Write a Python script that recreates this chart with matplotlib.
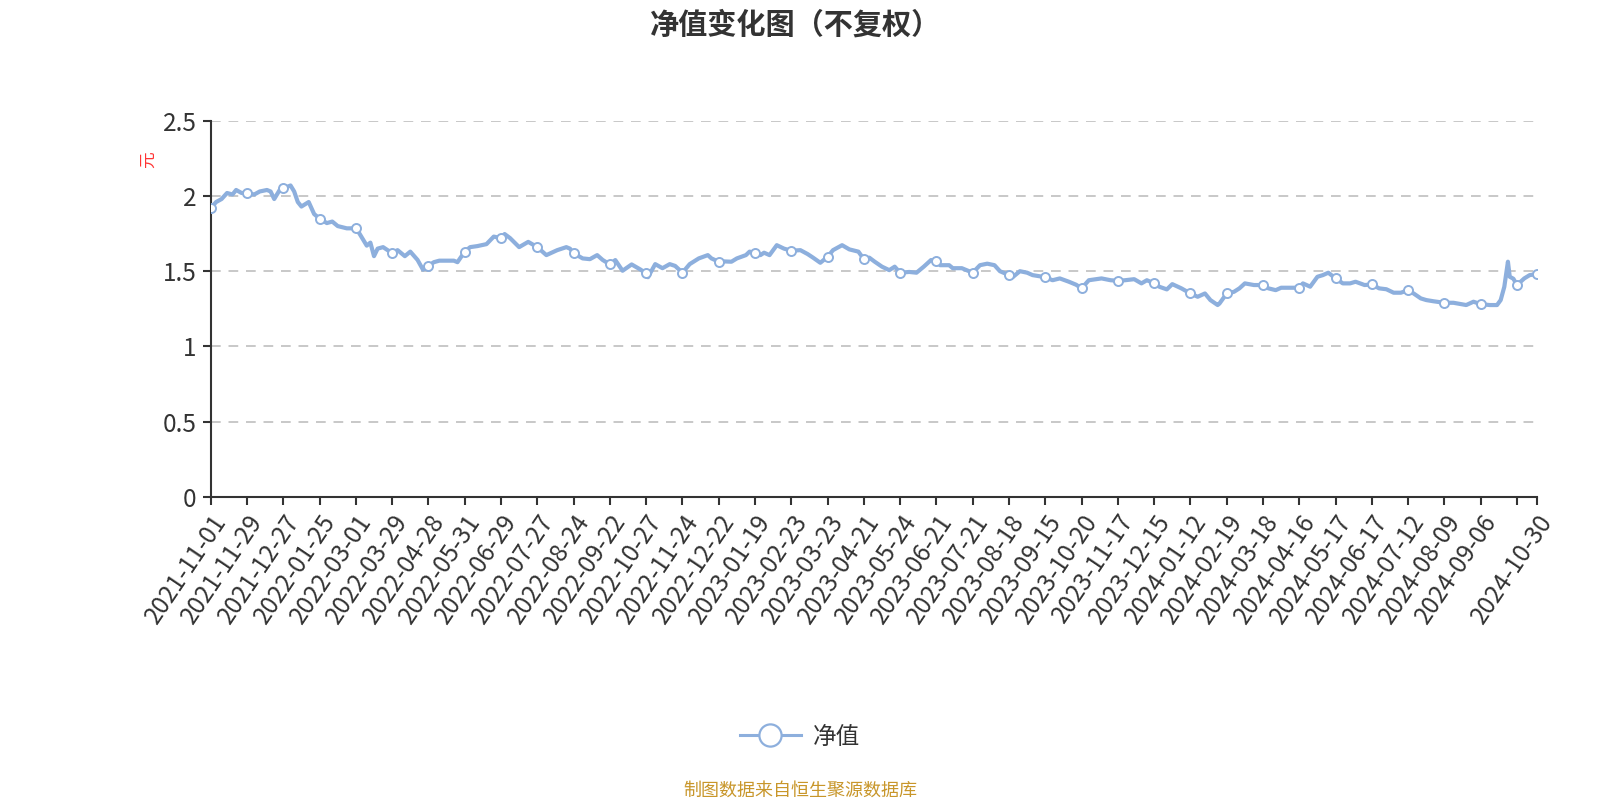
import matplotlib
matplotlib.use("Agg")
import matplotlib.pyplot as plt
from matplotlib.lines import Line2D

plt.rcParams['font.family'] = ['Noto Sans CJK SC', 'DejaVu Sans']

# trading-day positions and net values
day_idx = [0, 3, 6, 9, 12, 14, 17, 20, 24, 27, 31, 33, 35, 38, 40, 44, 46, 48, 50, 54, 57, 60,
           64, 67, 70, 75, 80, 82, 86, 88, 90, 92, 95, 100, 103, 107, 110, 114, 117, 120, 123,
           126, 134, 136, 140, 143, 147, 152, 156, 160, 162, 165, 170, 175, 180, 185, 191, 196,
           198, 200, 205, 209, 213, 216, 220, 223, 227, 232, 237, 240, 241, 245, 249, 253, 256,
           260, 264, 269, 274, 276, 280, 283, 287, 290, 295, 297, 300, 303, 305, 308, 312, 316,
           320, 325, 329, 332, 336, 340, 343, 348, 352, 357, 360, 363, 366, 370, 374, 377, 380,
           385, 389, 393, 397, 400, 402, 407, 409, 414, 420, 424, 428, 432, 435, 440, 442, 446,
           450, 453, 460, 464, 468, 473, 477, 480, 484, 491, 496, 500, 504, 509, 513, 516, 520,
           523, 527, 530, 535, 540, 544, 548, 551, 555, 556, 560, 564, 567, 570, 575, 580, 583,
           587, 590, 594, 600, 602, 606, 610, 613, 616, 620, 624, 628, 631, 636, 640, 644, 648,
           652, 656, 660, 663, 667, 670, 674, 680, 685, 692, 696, 700, 705, 709, 711, 713, 715,
           716, 718, 720, 724, 727, 731]
nav = [1.92, 1.96, 1.98, 2.02, 2.01, 2.04, 2.02, 2.02, 2.01, 2.03, 2.04, 2.03, 1.98, 2.04, 2.05,
       2.07, 2.03, 1.96, 1.93, 1.96, 1.88, 1.85, 1.82, 1.83, 1.80, 1.785, 1.785, 1.75, 1.67, 1.69,
       1.60, 1.65, 1.66, 1.62, 1.64, 1.60, 1.63, 1.575, 1.51, 1.535, 1.56, 1.57, 1.57, 1.56, 1.63,
       1.66, 1.667, 1.68, 1.73, 1.72, 1.747, 1.72, 1.66, 1.695, 1.66, 1.607, 1.64, 1.66, 1.65,
       1.62, 1.585, 1.58, 1.607, 1.575, 1.545, 1.574, 1.503, 1.545, 1.51, 1.485, 1.46, 1.547,
       1.52, 1.547, 1.535, 1.49, 1.547, 1.585, 1.607, 1.585, 1.563, 1.565, 1.563, 1.585, 1.607,
       1.63, 1.623, 1.607, 1.623, 1.607, 1.673, 1.65, 1.636, 1.64, 1.614, 1.59, 1.556, 1.596,
       1.64, 1.673, 1.645, 1.63, 1.58, 1.59, 1.563, 1.53, 1.507, 1.53, 1.49, 1.495, 1.49, 1.53,
       1.574, 1.567, 1.54, 1.54, 1.52, 1.52, 1.49, 1.54, 1.55, 1.54, 1.50, 1.474, 1.46, 1.50,
       1.49, 1.474, 1.46, 1.44, 1.452, 1.43, 1.41, 1.386, 1.44, 1.452, 1.44, 1.436, 1.44, 1.447,
       1.419, 1.44, 1.419, 1.396, 1.379, 1.414, 1.386, 1.352, 1.33, 1.352, 1.308, 1.275, 1.285,
       1.352, 1.363, 1.386, 1.419, 1.408, 1.408, 1.386, 1.374, 1.39, 1.39, 1.39, 1.419, 1.397,
       1.463, 1.474, 1.49, 1.452, 1.419, 1.419, 1.43, 1.408, 1.412, 1.386, 1.38, 1.357, 1.357,
       1.374, 1.352, 1.319, 1.308, 1.30, 1.29, 1.29, 1.275, 1.297, 1.281, 1.275, 1.275, 1.308,
       1.396, 1.563, 1.463, 1.45, 1.408, 1.452, 1.474, 1.481]

tick_labels = ["2021-11-01", "2021-11-29", "2021-12-27", "2022-01-25", "2022-03-01", "2022-03-29",
               "2022-04-28", "2022-05-31", "2022-06-29", "2022-07-27", "2022-08-24", "2022-09-22",
               "2022-10-27", "2022-11-24", "2022-12-22", "2023-01-19", "2023-02-23", "2023-03-23",
               "2023-04-21", "2023-05-24", "2023-06-21", "2023-07-21", "2023-08-18", "2023-09-15",
               "2023-10-20", "2023-11-17", "2023-12-15", "2024-01-12", "2024-02-19", "2024-03-18",
               "2024-04-16", "2024-05-17", "2024-06-17", "2024-07-12", "2024-08-09", "2024-09-06",
               "2024-10-30"]
y_ticks = [0, 0.5, 1, 1.5, 2, 2.5]
y_tick_labels = ["0", "0.5", "1", "1.5", "2", "2.5"]

line_color = "#8DAFDD"
text_color = "#333333"
last = day_idx[-1]

fig = plt.figure(figsize=(16, 8), dpi=100)
ax = fig.add_axes([0.1317, 0.379, 0.9606 - 0.1317, 0.849 - 0.379])

mark_pos = [i for i, d in enumerate(day_idx) if d % 20 == 0 or d == last]
ax.plot(day_idx, nav, color=line_color, lw=3.0, marker='o', markevery=mark_pos,
        markersize=6.5, markerfacecolor='white', markeredgecolor=line_color,
        markeredgewidth=1.4, zorder=3, solid_joinstyle='round')

ax.set_xlim(0, last)
ax.set_ylim(0, 2.5)

# x ticks: every 20 trading days plus final day; tick at 720 has no label
xt = list(range(0, 721, 20)) + [last]
xl = tick_labels[:-1] + [""] + [tick_labels[-1]]
ax.set_xticks(xt)
ax.set_xticklabels(xl, rotation=56, ha='right', rotation_mode='anchor',
                   fontsize=17.5, color=text_color)
ax.set_yticks(y_ticks)
ax.set_yticklabels(y_tick_labels, fontsize=17.5, color=text_color)
ax.tick_params(axis='both', length=6, width=1.5, color=text_color, pad=4)
ax.tick_params(axis='x', pad=3)

for v in y_ticks[1:]:
    ax.axhline(v, color='#c8c8c8', lw=1.4, ls=(0, (5, 4)), zorder=1)

for s in ['top', 'right']:
    ax.spines[s].set_visible(False)
for s in ['left', 'bottom']:
    ax.spines[s].set_color(text_color)
    ax.spines[s].set_linewidth(1.5)

fig.text(148 / 1600, 1 - 160 / 800, "元", color='#ff3333', fontsize=12, rotation=90,
         ha='center', va='center')

fig.text(0.4975, 1 - 25 / 800, "净值变化图（不复权）", fontsize=21, fontweight='bold',
         color=text_color, ha='center', va='center')

handle = Line2D([0], [0], color=line_color, lw=2.2, marker='o', markersize=16,
                markerfacecolor='white', markeredgecolor=line_color, markeredgewidth=1.6)
fig.legend([handle], ["净值"], loc='center', bbox_to_anchor=(0.5, 1 - 737 / 800),
           frameon=False, fontsize=17, handlelength=2.6, handletextpad=0.5,
           labelcolor=text_color)

fig.text(0.5, 1 - 791 / 800, "制图数据来自恒生聚源数据库", fontsize=13, color='#C8962A',
         ha='center', va='center')

fig.savefig("out.png", dpi=100)
